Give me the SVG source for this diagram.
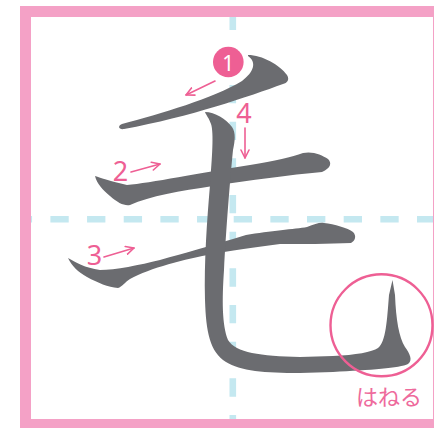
<svg xmlns="http://www.w3.org/2000/svg" width="434" height="428" viewBox="0 0 434 428">
  <defs>
    <style>
      .frame { fill: none; stroke: #F4A1C6; stroke-width: 11; }
      .guide { stroke: #C4E8F0; stroke-width: 6.6; stroke-dasharray: 18.33 18.33; fill: none; }
      .brush { fill: #6B6C70; }
      .conn { stroke: #EE5F94; stroke-width: 1.6; fill: none; stroke-linecap: round; }
      .num { font-family: "Noto Sans", "Liberation Sans", sans-serif; font-size: 27px; fill: #EE5F94; }
      .badge { fill: #EE5F94; }
      .badgeText { font-family: "Noto Sans", "Liberation Sans", sans-serif; font-size: 21px; fill: #FFFFFF; }
      .note { font-family: "Noto Sans CJK JP", "Noto Sans", sans-serif; font-size: 22px; fill: #EE6A9C; }
      .ring { fill: none; stroke: #EE5F94; stroke-width: 2.4; }
    </style>
    <marker id="head" viewBox="0 0 10 10" refX="9" refY="5" markerWidth="10" markerHeight="10" markerUnits="userSpaceOnUse" orient="auto">
      <path d="M1,1 L9,5 L1,9" fill="none" stroke="#EE5F94" stroke-width="1.6" stroke-linecap="round" stroke-linejoin="round"/>
    </marker>
  </defs>

  <rect x="0" y="0" width="434" height="428" fill="#FFFFFF"/>

  <g id="guides">
    <line class="guide" x1="31" y1="219.3" x2="434" y2="219.3" stroke-dashoffset="-19.4"/>
    <line class="guide" x1="232.8" y1="0" x2="232.8" y2="428" stroke-dashoffset="-11.7"/>
  </g>

  <g id="frame">
    <rect class="frame" x="25.5" y="11.5" width="413" height="413"/>
  </g>

  <g id="strokes">
    <path id="stroke1" class="brush" d="M248,55 C262,55 280,65 287,75 C290,80 287,83 283,84 C250,96 190,117 124,129 C119,130 117,126 122,124 C160,114 214,98 242,81 C254,72 257,62 248,56 Z"/>
    <path id="stroke2" class="brush" d="M95,176 C101,178 110,181 127,185 C150,183 200,173 250,165 C275,161 292,157 303,153 C313,151 322,155 328,159 C332,163 331,168 322,172 C290,175 250,180 213,186 C180,191 150,196 130,205 C124,206 118,203 110,196 C103,190 97,184 95,176 Z"/>
    <path id="stroke3" class="brush" d="M68,258 C75,262 85,268 100,270 C115,270 140,265 160,260 C185,253 210,246 246,235 C270,231 295,229 307,227 C315,224 320,222 324,223 C334,224 348,228 353,232 C357,236 355,241 351,243 C330,244 300,244 280,244 C255,247 230,251 213,254 C185,259 150,268 130,279 C125,282 122,287 118,288 C108,287 98,283 87,277 C78,272 72,266 68,258 Z"/>
    <path id="stroke4" class="brush" d="M205,112 C215,112 226,119 232,127 C236,133 235,141 233,150 C230,180 226,230 224,270 C222,300 222,325 228,340 C236,353 260,356 300,357 L333,356 C356,355 372,352 378,348 C386,342 387,320 389,295 L392.5,280 L395,295 C396,320 399,337 405,347 C410,354 413,360 408,364 C400,368 370,370 333,372 L300,373 C265,373 240,371 226,362 C210,352 206,332 205,300 C204,262 207,220 210,185 C212,158 214,133 211,124 C209,118 206,115 205,112 Z"/>
  </g>

  <g id="connectors">
    <line class="conn" x1="215" y1="81" x2="186" y2="95" marker-end="url(#head)"/>
    <line class="conn" x1="245" y1="128" x2="245" y2="158" marker-end="url(#head)"/>
    <line class="conn" x1="131" y1="172" x2="160" y2="164" marker-end="url(#head)"/>
    <line class="conn" x1="104" y1="257" x2="134" y2="248" marker-end="url(#head)"/>
  </g>

  <g id="label1">
    <circle class="badge" cx="228.3" cy="62" r="15.3"/>
    <text class="badgeText" x="228.3" y="70.5" text-anchor="middle">1</text>
  </g>
  <g id="label2">
    <text class="num" x="120.5" y="181" text-anchor="middle">2</text>
  </g>
  <g id="label3">
    <text class="num" x="94.5" y="265" text-anchor="middle">3</text>
  </g>
  <g id="label4">
    <text class="num" x="244" y="123" text-anchor="middle">4</text>
  </g>

  <g id="hane">
    <circle class="ring" cx="381.5" cy="325.3" r="51"/>
    <text class="note" x="389" y="405" text-anchor="middle">はねる</text>
  </g>
</svg>
